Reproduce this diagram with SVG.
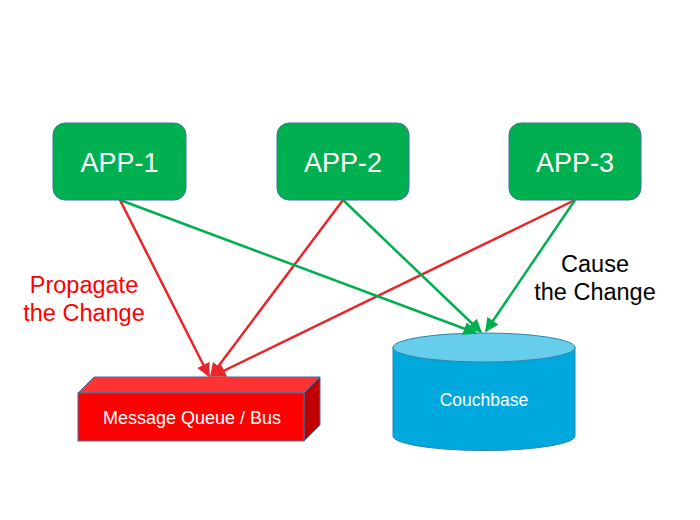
<svg xmlns="http://www.w3.org/2000/svg" width="700" height="520" viewBox="0 0 700 520">
<defs>
<style>
.app rect{fill:#00B050;stroke:#41719C;stroke-width:1}
.app text{fill:#fff;font-family:"Liberation Sans",Arial,sans-serif;font-size:27px;text-anchor:middle}
.lbl{font-family:"Liberation Sans",Arial,sans-serif;font-size:23.5px;text-anchor:middle}
.small{fill:#fff;font-family:"Liberation Sans",Arial,sans-serif;font-size:17.5px;text-anchor:middle}
.red{stroke:#E8262A;stroke-width:2.5;fill:none;marker-end:url(#ar)}
.green{stroke:#00B050;stroke-width:2.5;fill:none;marker-end:url(#ag)}
</style>
<marker id="ar" viewBox="0 0 10 10" refX="9" refY="5" markerWidth="5.5" markerHeight="5.5" orient="auto" markerUnits="strokeWidth"><path d="M0,0 L10,5 L0,10 z" fill="#E8262A"/></marker>
<marker id="ag" viewBox="0 0 10 10" refX="9" refY="5" markerWidth="5.5" markerHeight="5.5" orient="auto" markerUnits="strokeWidth"><path d="M0,0 L10,5 L0,10 z" fill="#00B050"/></marker>
</defs>
<rect width="700" height="520" fill="#fff"/>
<g id="mq">
<polygon points="78,393 94,377 320,377 304,393" fill="#FF3333" stroke="#41719C" stroke-width="1"/>
<polygon points="304,393 320,377 320,425 304,441" fill="#C00000" stroke="#41719C" stroke-width="1"/>
<rect x="78" y="393" width="226" height="48" fill="#FF0000" stroke="#41719C" stroke-width="1"/>
<text class="small" x="192" y="424" style="font-size:18px">Message Queue / Bus</text>
</g>
<g id="couchbase">
<path d="M393,347 L393,436 A91,14.5 0 0 0 575,436 L575,347" fill="#00A9DD" stroke="#2E86AB" stroke-width="1"/>
<ellipse cx="484" cy="347.5" rx="91" ry="14.5" fill="#66CDED" stroke="#2E86AB" stroke-width="1"/>
<text class="small" x="484" y="406">Couchbase</text>
</g>
<g id="connectors">
<line class="red" x1="120" y1="200" x2="209" y2="376"/>
<line class="red" x1="343" y1="200" x2="211" y2="376"/>
<line class="red" x1="575" y1="200" x2="213" y2="376"/>
<line class="green" x1="120" y1="200" x2="476" y2="333"/>
<line class="green" x1="343" y1="200" x2="481" y2="332"/>
<line class="green" x1="575" y1="200" x2="486" y2="331"/>
</g>
<g id="app1" class="app"><rect x="53" y="123" width="133" height="77" rx="12"/><text x="119.5" y="172">APP-1</text></g>
<g id="app2" class="app"><rect x="277" y="123" width="132" height="77" rx="12"/><text x="343" y="172">APP-2</text></g>
<g id="app3" class="app"><rect x="509" y="123" width="132" height="77" rx="12"/><text x="575" y="172">APP-3</text></g>
<g id="labels">
<text class="lbl" x="84" y="293" fill="#FF0000">Propagate</text>
<text class="lbl" x="84" y="321" fill="#FF0000">the Change</text>
<text class="lbl" x="595" y="272" fill="#000">Cause</text>
<text class="lbl" x="595" y="300" fill="#000">the Change</text>
</g>
</svg>
